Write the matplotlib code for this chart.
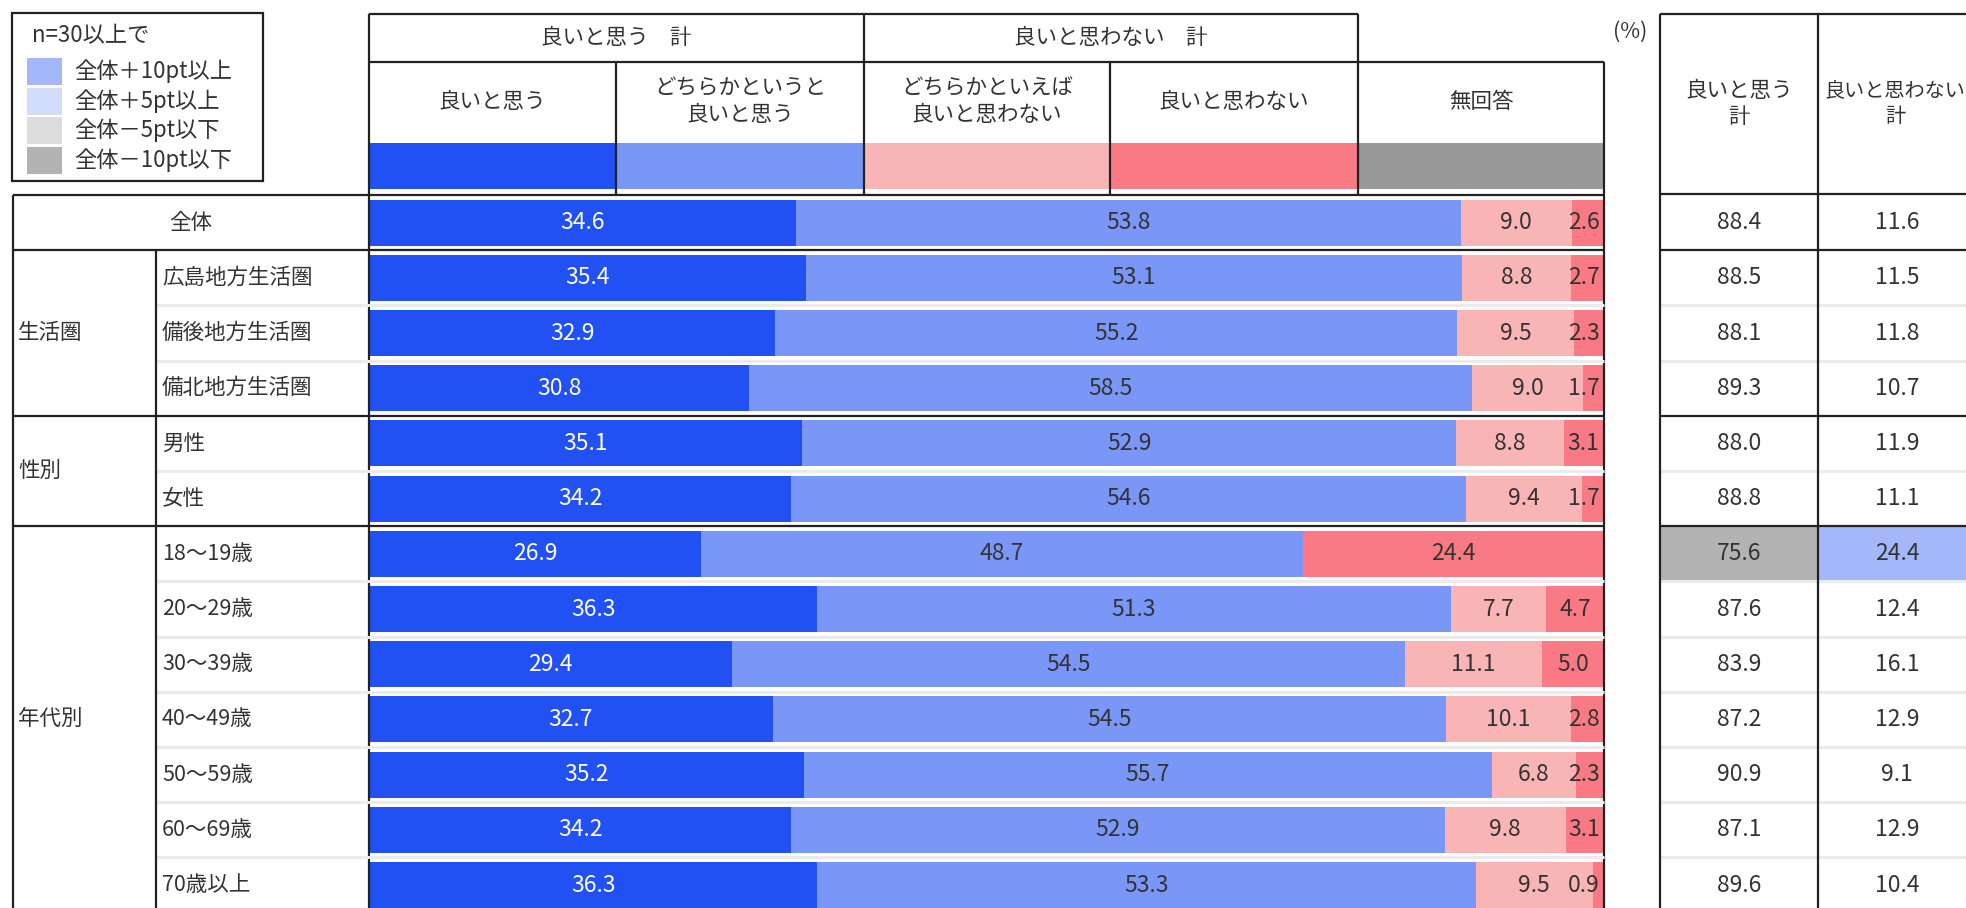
import matplotlib
matplotlib.use("Agg")
import matplotlib.pyplot as plt
from matplotlib.patches import Rectangle

plt.rcParams['font.family'] = ['Noto Sans CJK JP', 'DejaVu Sans']
plt.rcParams['font.size'] = 15.5

# --- data -------------------------------------------------------------
rows = ["全体", "広島地方生活圏", "備後地方生活圏", "備北地方生活圏", "男性", "女性",
        "18～19歳", "20～29歳", "30～39歳", "40～49歳", "50～59歳", "60～69歳", "70歳以上"]
group_names = ["生活圏", "性別", "年代別"]
group_first = [1, 4, 6]
group_last = [3, 5, 12]

series_names = ["良いと思う", "どちらかというと\n良いと思う", "どちらかといえば\n良いと思わない",
                "良いと思わない", "無回答"]
good = [34.6, 35.4, 32.9, 30.8, 35.1, 34.2, 26.9, 36.3, 29.4, 32.7, 35.2, 34.2, 36.3]
rather_good = [53.8, 53.1, 55.2, 58.5, 52.9, 54.6, 48.7, 51.3, 54.5, 54.5, 55.7, 52.9, 53.3]
rather_bad = [9.0, 8.8, 9.5, 9.0, 8.8, 9.4, 0.0, 7.7, 11.1, 10.1, 6.8, 9.8, 9.5]
bad = [2.6, 2.7, 2.3, 1.7, 3.1, 1.7, 24.4, 4.7, 5.0, 2.8, 2.3, 3.1, 0.9]
no_answer = [0.0, 0.0, 0.0, 0.0, 0.0, 0.0, 0.0, 0.0, 0.0, 0.0, 0.0, 0.0, 0.0]

total_good = [88.4, 88.5, 88.1, 89.3, 88.0, 88.8, 75.6, 87.6, 83.9, 87.2, 90.9, 87.1, 89.6]
total_bad = [11.6, 11.5, 11.8, 10.7, 11.9, 11.1, 24.4, 12.4, 16.1, 12.9, 9.1, 12.9, 10.4]

legend_labels = ["全体＋10pt以上", "全体＋5pt以上", "全体－5pt以下", "全体－10pt以下"]

# --- style ------------------------------------------------------------
seg_colors = ["#2151F3", "#7A96F7", "#F9B4B6", "#F97A85", "#999999"]
legend_colors = ["#A4B7F8", "#D2DCFB", "#DCDCDC", "#B3B3B3"]
txt = "#333333"
dark = "#222222"
light = "#EBEBEB"
num_size = 16.5

W, H = 1966, 908
row_top, row_h = 195, 55.2
bar_x0, bar_x1 = 369, 1604
col_edges = [369, 616, 864, 1110, 1358, 1604]
rt_edges = [1660, 1818, 1976]

fig = plt.figure(figsize=(W / 100, H / 100), dpi=100)

# bar chart axes, one row per unit
bx = fig.add_axes([bar_x0 / W, 0, (bar_x1 - bar_x0) / W, (H - row_top) / H])
bx.set_xlim(0, 100)
bx.set_ylim((H - row_top) / row_h - 0.5, -0.5)
bx.axis('off')

ypos = list(range(len(rows)))
left = [0.0] * len(rows)
for k, vals in enumerate([good, rather_good, rather_bad, bad, no_answer]):
    bx.barh(ypos, vals, left=left, height=0.83, color=seg_colors[k], linewidth=0)
    for i, v in enumerate(vals):
        if v <= 0:
            continue
        # keep small labels at the right end inside the plot
        xc = min(left[i] + v / 2, 98.4)
        bx.text(xc, i, f"{v:.1f}", ha='center', va='center', fontsize=num_size,
                color="white" if k == 0 else txt)
    left = [a + b for a, b in zip(left, vals)]

# table overlay in pixel coordinates
ax = fig.add_axes([0, 0, 1, 1])
ax.set_xlim(0, W)
ax.set_ylim(H, 0)
ax.axis('off')
ax.patch.set_alpha(0)


def hline(y, x0, x1, color=dark, lw=1.6):
    ax.plot([x0, x1], [y, y], color=color, lw=lw, solid_capstyle='butt')


def vline(x, y0, y1, color=dark, lw=1.6):
    ax.plot([x, x], [y0, y1], color=color, lw=lw, solid_capstyle='butt')


def ry(i):
    return row_top + row_h * i


# legend box
ax.add_patch(Rectangle((12, 13), 251, 168, fill=False, ec=dark, lw=1.6))
ax.text(32, 36, "n=30以上で", ha='left', va='center', color=txt, fontsize=16)
for k, lab in enumerate(legend_labels):
    yc = 71.5 + 29.5 * k
    ax.add_patch(Rectangle((27, yc - 13.5), 35, 27, color=legend_colors[k], lw=0))
    ax.text(74, yc, lab, ha='left', va='center', color=txt, fontsize=16)

# header of the bar part
hline(14, col_edges[0], col_edges[4])
hline(62, col_edges[0], col_edges[5])
vline(col_edges[0], 14, H)
vline(col_edges[2], 14, 194)
vline(col_edges[4], 14, 194)
vline(col_edges[1], 62, 194)
vline(col_edges[3], 62, 194)
vline(col_edges[5], 62, H)
ax.text((col_edges[0] + col_edges[2]) / 2, 38, "良いと思う　計", ha='center', va='center', color=txt)
ax.text((col_edges[2] + col_edges[4]) / 2, 38, "良いと思わない　計", ha='center', va='center', color=txt)
for k, name in enumerate(series_names):
    xc = (col_edges[k] + col_edges[k + 1]) / 2
    ax.text(xc, 102, name, ha='center', va='center', color=txt, linespacing=1.25)
    ax.add_patch(Rectangle((col_edges[k], 143), col_edges[k + 1] - col_edges[k], 46,
                           color=seg_colors[k], lw=0))
ax.text(1630, 32, "(%)", ha='center', va='center', color=txt)

# right table: totals with highlight against 全体
hline(14, rt_edges[0], W)
hline(194, rt_edges[0], W)
ax.text((rt_edges[0] + rt_edges[1]) / 2, 104, "良いと思う\n計", ha='center', va='center',
        color=txt, linespacing=1.25)
ax.text((rt_edges[1] + rt_edges[2]) / 2 - 2, 104, "良いと思わない\n計", ha='center', va='center',
        color=txt, linespacing=1.25, fontsize=14.5)


def diff_color(d):
    if d >= 10:
        return legend_colors[0]
    if d >= 5:
        return legend_colors[1]
    if d <= -10:
        return legend_colors[3]
    if d <= -5:
        return legend_colors[2]
    return None


for i in range(len(rows)):
    yc = ry(i) + row_h / 2
    for c, vals in enumerate([total_good, total_bad]):
        x0, x1 = rt_edges[c], rt_edges[c + 1]
        if i > 0:
            fc = diff_color(vals[i] - vals[0])
            if fc:
                ax.add_patch(Rectangle((x0, ry(i)), x1 - x0, row_h, color=fc, lw=0))
        ax.text((x0 + x1) / 2, yc, f"{vals[i]:.1f}", ha='center', va='center', color=txt,
                fontsize=num_size)

# row grid
group_ends = [0] + group_last
for i in range(1, len(rows) + 1):
    y = ry(i)
    if (i - 1) in group_ends:
        hline(y, 13, bar_x1)
        hline(y, rt_edges[0], W)
    else:
        hline(y, 156, bar_x1, color=light, lw=2.2)
        hline(y, rt_edges[0], W, color=light, lw=2.2)

hline(row_top, 13, bar_x1)
vline(13, row_top, H)
vline(156, ry(1), H)
vline(rt_edges[0], 14, H)
vline(rt_edges[1], 14, H)

# row labels
ax.text((13 + bar_x0) / 2, ry(0) + row_h / 2, rows[0], ha='center', va='center', color=txt)
for i in range(1, len(rows)):
    ax.text(162, ry(i) + row_h / 2, rows[i], ha='left', va='center', color=txt)
for g, name in enumerate(group_names):
    yc = (ry(group_first[g]) + ry(group_last[g] + 1)) / 2
    ax.text(18, yc, name, ha='left', va='center', color=txt)

fig.savefig("out.png", dpi=100)
